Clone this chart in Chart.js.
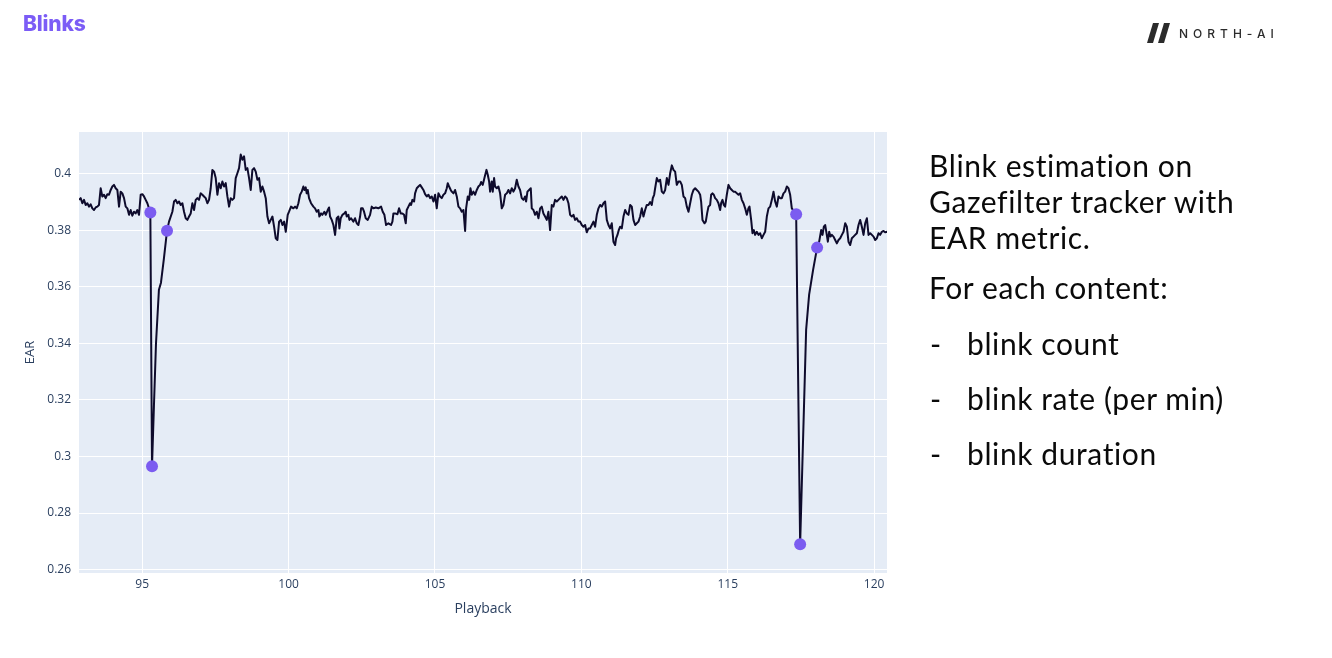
<!DOCTYPE html>
<html>
<head>
<meta charset="utf-8">
<script src="https://cdn.jsdelivr.net/npm/chart.js@4.4.1/dist/chart.umd.min.js"></script>
<style>
  html, body { margin: 0; padding: 0; background: #ffffff; }
  body { width: 1332px; height: 658px; position: relative; overflow: hidden; }
  #c { position: absolute; left: 0; top: 0; }
  #title { position: absolute; left: 23px; top: 11px; font-family: Inter, "DejaVu Sans", sans-serif; font-weight: 800; font-size: 21px; color: #7b5cf6; letter-spacing: -0.2px; }
  #logo { position: absolute; left: 1147px; top: 23px; height: 20px; display: flex; align-items: center; }
  #logo span { font-family: Inter, "Open Sans", sans-serif; font-size: 12px; font-weight: 500; letter-spacing: 5px; color: #2b2b2b; margin-left: 8px; }
  .txt { position: absolute; left: 929px; font-family: Lato, "Open Sans", sans-serif; font-size: 30px; letter-spacing: 0.6px; color: #0a0a0a; white-space: nowrap; line-height: 36px; }
  .dash { position: absolute; left: 930px; font-family: Lato, sans-serif; font-size: 30px; color: #0a0a0a; line-height: 36px; }
  .bul { left: 967px; }
</style>
</head>
<body>
<canvas id="c" width="1332" height="658"></canvas>
<div id="title">Blinks</div>
<div id="logo">
  <svg width="24" height="20" viewBox="0 0 24 20">
    <polygon points="0,20 6,20 12,0 6,0" fill="#2b2b2b"/>
    <polygon points="11,20 17,20 23,0 17,0" fill="#2b2b2b"/>
  </svg>
  <span>NORTH-AI</span>
</div>
<div class="txt" style="top:147px">Blink estimation on<br>Gazefilter tracker with<br>EAR metric.</div>
<div class="txt" style="top:269px">For each content:</div>
<div class="dash" style="top:325px">-</div><div class="txt bul" style="top:325px">blink count</div>
<div class="dash" style="top:380px">-</div><div class="txt bul" style="top:380px">blink rate (per min)</div>
<div class="dash" style="top:435px">-</div><div class="txt bul" style="top:435px">blink duration</div>

<script>
// ---- Data (Playback seconds, EAR value) ----
const playbackA = [92.840, 92.897, 92.954, 93.011, 93.068, 93.125, 93.182, 93.239, 93.296, 93.353,
  93.410, 93.466, 93.523, 93.580, 93.637, 93.694, 93.751, 93.808, 93.865, 93.922,
  93.979, 94.036, 94.093, 94.150, 94.207, 94.264, 94.321, 94.378, 94.435, 94.492,
  94.549, 94.605, 94.662, 94.719, 94.776, 94.833, 94.890, 94.947, 95.004, 95.061,
  95.118, 95.175];
const earA = [0.3908, 0.3914, 0.3896, 0.3908, 0.3890, 0.3896, 0.3884, 0.3892, 0.3878, 0.3872,
  0.3881, 0.3884, 0.3890, 0.3949, 0.3920, 0.3926, 0.3914, 0.3928, 0.3926, 0.3943,
  0.3955, 0.3961, 0.3949, 0.3943, 0.3884, 0.3937, 0.3931, 0.3914, 0.3884, 0.3878,
  0.3855, 0.3872, 0.3852, 0.3866, 0.3860, 0.3872, 0.3855, 0.3926, 0.3928, 0.3920,
  0.3908, 0.3896];

const playbackB = [95.277, 95.334, 95.40, 95.47, 95.57, 95.64, 95.74, 95.847];
const earB = [0.3863, 0.2966, 0.318, 0.340, 0.359, 0.3615, 0.370, 0.3799];

const playbackC = [95.915, 96.029, 96.086, 96.143, 96.200, 96.257, 96.314, 96.371, 96.428, 96.485,
  96.542, 96.599, 96.656, 96.713, 96.770, 96.827, 96.883, 96.940, 96.997, 97.054,
  97.111, 97.168, 97.225, 97.282, 97.339, 97.396, 97.453, 97.510, 97.567, 97.624,
  97.681, 97.738, 97.795, 97.852, 97.909, 97.966, 98.023, 98.079, 98.136, 98.193,
  98.250, 98.307, 98.364, 98.421, 98.478, 98.535, 98.592, 98.649, 98.706, 98.763,
  98.820, 98.877, 98.934, 98.991, 99.048, 99.105, 99.162, 99.219, 99.276, 99.333,
  99.390, 99.447, 99.504, 99.561, 99.618, 99.675, 99.732, 99.789, 99.846, 99.903];
const earC = [0.3831, 0.3866, 0.3902, 0.3908, 0.3896, 0.3902, 0.3890, 0.3896, 0.3866, 0.3843,
  0.3837, 0.3849, 0.3860, 0.3896, 0.3872, 0.3908, 0.3914, 0.3908, 0.3931, 0.3926,
  0.3920, 0.3914, 0.3896, 0.3908, 0.3949, 0.4014, 0.4008, 0.3985, 0.3926, 0.3967,
  0.3949, 0.3973, 0.3955, 0.3967, 0.3920, 0.3884, 0.3914, 0.3908, 0.3914, 0.3985,
  0.4002, 0.4020, 0.4068, 0.4050, 0.4062, 0.4014, 0.4020, 0.3985, 0.3943, 0.4014,
  0.4020, 0.4008, 0.3979, 0.3985, 0.3937, 0.3955, 0.3937, 0.3914, 0.3849, 0.3825,
  0.3837, 0.3849, 0.3813, 0.3772, 0.3766, 0.3831, 0.3837, 0.3819, 0.3831, 0.3795];

const playbackD = [99.969, 100.015, 100.083, 100.163, 100.220, 100.277, 100.334, 100.391, 100.448, 100.504,
  100.539, 100.584, 100.618, 100.653, 100.698, 100.766, 100.846, 100.903, 100.960, 101.017,
  101.051, 101.108, 101.154, 101.222, 101.268, 101.336, 101.381, 101.416, 101.473, 101.530,
  101.587, 101.643, 101.700, 101.735, 101.780, 101.837, 101.905, 101.951, 101.985, 102.042,
  102.076, 102.133, 102.213, 102.270, 102.327, 102.384, 102.441, 102.475, 102.532, 102.577,
  102.634, 102.703, 102.782, 102.839, 102.896, 102.976, 103.067, 103.158, 103.215, 103.272,
  103.329, 103.409, 103.500, 103.546, 103.580, 103.637, 103.717, 103.773, 103.830, 103.887,
  103.944, 104.001, 104.035, 104.092, 104.149, 104.183, 104.229, 104.286, 104.320, 104.377,
  104.434, 104.491, 104.548, 104.605, 104.662, 104.719, 104.776, 104.833, 104.890, 104.947,
  105.004, 105.060, 105.117, 105.174, 105.231, 105.288, 105.345, 105.402, 105.436, 105.482,
  105.539, 105.573, 105.630, 105.687, 105.744, 105.801, 105.858, 105.915, 105.972, 106.029,
  106.063, 106.120, 106.165, 106.211, 106.256, 106.313, 106.370, 106.427, 106.484, 106.541,
  106.575, 106.632, 106.689, 106.758, 106.803, 106.849, 106.883];
const earD = [0.3855, 0.3866, 0.3884, 0.3878, 0.3884, 0.3878, 0.3896, 0.3926, 0.3937, 0.3955,
  0.3943, 0.3952, 0.3931, 0.3943, 0.3914, 0.3896, 0.3884, 0.3878, 0.3866, 0.3872,
  0.3849, 0.3860, 0.3855, 0.3866, 0.3855, 0.3872, 0.3881, 0.3849, 0.3837, 0.3819,
  0.3784, 0.3843, 0.3849, 0.3807, 0.3843, 0.3855, 0.3860, 0.3866, 0.3849, 0.3855,
  0.3837, 0.3843, 0.3831, 0.3843, 0.3825, 0.3819, 0.3849, 0.3878, 0.3878, 0.3866,
  0.3843, 0.3837, 0.3855, 0.3884, 0.3878, 0.3881, 0.3878, 0.3884, 0.3866, 0.3855,
  0.3819, 0.3825, 0.3819, 0.3831, 0.3860, 0.3860, 0.3857, 0.3878, 0.3860, 0.3860,
  0.3855, 0.3825, 0.3872, 0.3884, 0.3896, 0.3890, 0.3908, 0.3902, 0.3931, 0.3949,
  0.3955, 0.3961, 0.3952, 0.3943, 0.3928, 0.3920, 0.3926, 0.3914, 0.3920, 0.3902,
  0.3926, 0.3878, 0.3931, 0.3920, 0.3914, 0.3926, 0.3931, 0.3949, 0.3967, 0.3955,
  0.3943, 0.3937, 0.3931, 0.3943, 0.3920, 0.3884, 0.3878, 0.3866, 0.3872, 0.3798,
  0.3878, 0.3920, 0.3908, 0.3949, 0.3926, 0.3937, 0.3926, 0.3943, 0.3955, 0.3961,
  0.3971, 0.3961, 0.3985, 0.4014, 0.3997, 0.3973, 0.3937];

const playbackE = [106.939, 106.973, 107.019, 107.053, 107.110, 107.167, 107.224, 107.281, 107.338, 107.395,
  107.452, 107.508, 107.565, 107.622, 107.679, 107.736, 107.793, 107.850, 107.907, 107.964,
  108.021, 108.078, 108.112, 108.158, 108.215, 108.272, 108.306, 108.363, 108.420, 108.477,
  108.534, 108.591, 108.647, 108.704, 108.761, 108.818, 108.875, 108.932, 108.989, 109.046,
  109.103, 109.160, 109.217, 109.274, 109.331, 109.388, 109.445, 109.502, 109.559, 109.616,
  109.673, 109.730, 109.786, 109.843, 109.900, 109.957, 110.014, 110.071, 110.128, 110.185,
  110.242, 110.299, 110.356, 110.413, 110.470, 110.527, 110.584, 110.641, 110.698, 110.755,
  110.812, 110.869, 110.925, 110.982, 111.039, 111.096, 111.153, 111.187, 111.233, 111.278,
  111.324, 111.381, 111.438, 111.495, 111.552, 111.609, 111.666, 111.723, 111.780, 111.837,
  111.894, 111.951, 112.008, 112.064, 112.121, 112.178, 112.235, 112.292, 112.349, 112.406,
  112.440, 112.486, 112.520, 112.577, 112.634, 112.691, 112.748, 112.805, 112.862, 112.919,
  112.976, 113.033, 113.090, 113.146, 113.203, 113.260, 113.317, 113.374, 113.431, 113.488,
  113.545, 113.602, 113.659, 113.716, 113.773, 113.830, 113.887];
const earE = [0.3973, 0.3937, 0.3985, 0.3955, 0.3949, 0.3955, 0.3931, 0.3878, 0.3890, 0.3926,
  0.3931, 0.3943, 0.3931, 0.3949, 0.3937, 0.3949, 0.3979, 0.3955, 0.3943, 0.3914,
  0.3908, 0.3920, 0.3902, 0.3937, 0.3943, 0.3949, 0.3878, 0.3872, 0.3855, 0.3866,
  0.3843, 0.3878, 0.3884, 0.3860, 0.3849, 0.3837, 0.3866, 0.3801, 0.3890, 0.3884,
  0.3908, 0.3902, 0.3908, 0.3914, 0.3920, 0.3908, 0.3920, 0.3914, 0.3896, 0.3855,
  0.3849, 0.3855, 0.3837, 0.3843, 0.3831, 0.3831, 0.3819, 0.3813, 0.3819, 0.3793,
  0.3807, 0.3807, 0.3819, 0.3831, 0.3813, 0.3855, 0.3878, 0.3890, 0.3884, 0.3896,
  0.3902, 0.3837, 0.3819, 0.3807, 0.3825, 0.3760, 0.3748, 0.3772, 0.3784, 0.3801,
  0.3813, 0.3807, 0.3849, 0.3872, 0.3860, 0.3855, 0.3890, 0.3884, 0.3837, 0.3819,
  0.3825, 0.3831, 0.3849, 0.3878, 0.3849, 0.3872, 0.3890, 0.3890, 0.3900, 0.3890,
  0.3914, 0.3926, 0.3949, 0.3985, 0.3973, 0.3979, 0.3937, 0.3931, 0.3943, 0.3985,
  0.3961, 0.4002, 0.4030, 0.4014, 0.4008, 0.3961, 0.3973, 0.3973, 0.3961, 0.3920,
  0.3914, 0.3884, 0.3866, 0.3896, 0.3926, 0.3943, 0.3949];

const playbackF = [113.943, 114.000, 114.057, 114.091, 114.137, 114.205, 114.250, 114.296, 114.342, 114.399,
  114.433, 114.478, 114.524, 114.569, 114.626, 114.683, 114.740, 114.774, 114.820, 114.866,
  114.911, 114.968, 115.025, 115.082, 115.139, 115.196, 115.253, 115.310, 115.367, 115.424,
  115.481, 115.538, 115.595, 115.651, 115.708, 115.743, 115.800, 115.845, 115.891, 115.936,
  115.993, 116.050, 116.107, 116.164, 116.221, 116.278, 116.335, 116.392, 116.449, 116.506,
  116.563, 116.620, 116.677, 116.734, 116.790, 116.847, 116.904, 116.961, 117.018, 117.075,
  117.132, 117.189];
const earF = [0.3943, 0.3937, 0.3926, 0.3902, 0.3837, 0.3825, 0.3831, 0.3860, 0.3884, 0.3890,
  0.3926, 0.3931, 0.3926, 0.3914, 0.3908, 0.3896, 0.3872, 0.3896, 0.3908, 0.3890,
  0.3884, 0.3926, 0.3961, 0.3949, 0.3943, 0.3937, 0.3937, 0.3931, 0.3926, 0.3931,
  0.3908, 0.3896, 0.3878, 0.3855, 0.3878, 0.3884, 0.3837, 0.3790, 0.3801, 0.3784,
  0.3795, 0.3784, 0.3790, 0.3772, 0.3784, 0.3795, 0.3849, 0.3878, 0.3884, 0.3908,
  0.3937, 0.3902, 0.3884, 0.3920, 0.3914, 0.3914, 0.3931, 0.3937, 0.3955, 0.3949,
  0.3926, 0.3878];

const playbackG = [117.337, 117.473, 117.678, 117.780, 117.917, 118.053];
const earG = [0.3857, 0.2690, 0.3449, 0.3573, 0.3661, 0.3739];

const playbackH = [118.123, 118.191, 118.237, 118.283, 118.328, 118.374, 118.419, 118.465, 118.510, 118.556,
  118.613, 118.670, 118.727, 118.784, 118.841, 118.898, 118.955, 119.012, 119.068, 119.125,
  119.182, 119.239, 119.296, 119.353, 119.410, 119.467, 119.524, 119.581, 119.638, 119.695,
  119.752, 119.809, 119.866, 119.923, 119.980, 120.037, 120.094, 120.150, 120.207, 120.264,
  120.321, 120.378, 120.435, 120.492];
const earH = [0.3760, 0.3801, 0.3784, 0.3813, 0.3819, 0.3790, 0.3760, 0.3795, 0.3778, 0.3784,
  0.3778, 0.3766, 0.3754, 0.3766, 0.3772, 0.3784, 0.3795, 0.3825, 0.3813, 0.3760,
  0.3748, 0.3772, 0.3778, 0.3784, 0.3790, 0.3819, 0.3837, 0.3813, 0.3784, 0.3825,
  0.3843, 0.3784, 0.3790, 0.3784, 0.3778, 0.3766, 0.3772, 0.3790, 0.3784, 0.3795,
  0.3798, 0.3793, 0.3795, 0.3793];

// Detected blink points (start, minimum, end)
const blinkPlayback = [95.277, 95.334, 95.847, 117.337, 117.473, 118.053];
const blinkEAR = [0.3863, 0.2966, 0.3799, 0.3857, 0.2690, 0.3739];

const xTickStep = 5;
const yTickStep = 0.02;

// ---- Build chart ----
const playback = [].concat(playbackA, playbackB, playbackC, playbackD, playbackE, playbackF, playbackG, playbackH);
const ear = [].concat(earA, earB, earC, earD, earE, earF, earG, earH);
const linePts = playback.map((x, i) => ({ x: x, y: ear[i] }));
const blinkPts = blinkPlayback.map((x, i) => ({ x: x, y: blinkEAR[i] }));

const bgPlugin = {
  id: 'plotBg',
  beforeDraw(chart) {
    const { ctx, chartArea: a } = chart;
    ctx.save();
    ctx.fillStyle = '#E5ECF6';
    ctx.fillRect(a.left, a.top, a.right - a.left, a.bottom - a.top);
    ctx.restore();
  }
};

const axisFont = { family: '"Open Sans", "DejaVu Sans", sans-serif', size: 12 };
const axisColor = '#2a3f5f';

new Chart(document.getElementById('c').getContext('2d'), {
  type: 'line',
  data: {
    datasets: [
      {
        label: 'Blinks', data: blinkPts, showLine: false,
        pointRadius: 6, pointHoverRadius: 6, pointBackgroundColor: '#7b5cf0', pointBorderWidth: 0,
        order: 0
      },
      {
        label: 'EAR', data: linePts, borderColor: '#0e0b2c', borderWidth: 2,
        pointRadius: 0, tension: 0, borderJoinStyle: 'round', order: 1
      }
    ]
  },
  options: {
    responsive: false,
    animation: false,
    events: [],
    layout: { padding: { left: 0, top: 132, right: 445, bottom: 0 } },
    plugins: { legend: { display: false }, tooltip: { enabled: false } },
    scales: {
      x: {
        type: 'linear', min: 92.84, max: 120.44,
        afterFit(s) { s.height = 85; },
        grid: { color: '#ffffff', lineWidth: 1, drawTicks: false },
        border: { display: false },
        ticks: {
          stepSize: xTickStep, includeBounds: false, padding: 4, maxRotation: 0,
          color: axisColor, font: axisFont,
          callback: v => String(v)
        },
        title: {
          display: true, text: 'Playback', color: axisColor,
          font: { family: '"Open Sans", "DejaVu Sans", sans-serif', size: 14 },
          padding: { top: 0, bottom: 41 }
        }
      },
      y: {
        type: 'linear', min: 0.2588, max: 0.4148,
        afterFit(s) { s.width = 79; },
        grid: { color: '#ffffff', lineWidth: 1, drawTicks: false },
        border: { display: false },
        ticks: {
          stepSize: yTickStep, includeBounds: false, padding: 8,
          color: axisColor, font: axisFont,
          callback: v => String(+Number(v).toFixed(2))
        },
        title: {
          display: true, text: 'EAR', color: axisColor,
          font: { family: '"Open Sans", "DejaVu Sans", sans-serif', size: 13 },
          padding: { top: 22, bottom: 0 }
        }
      }
    }
  },
  plugins: [bgPlugin]
});
</script>
</body>
</html>
